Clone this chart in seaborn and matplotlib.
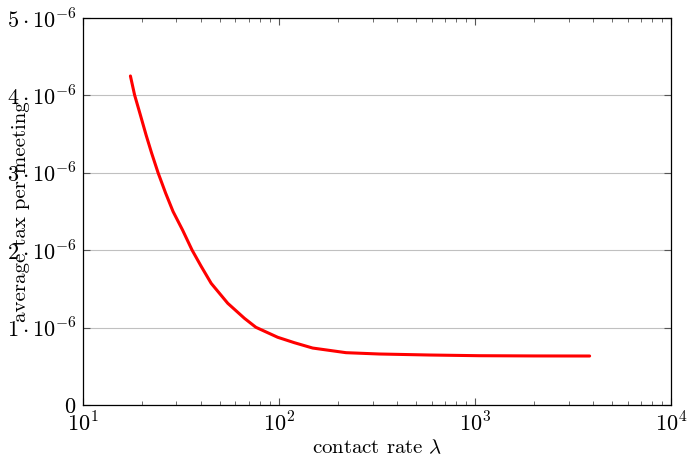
import numpy as np
import pandas as pd
import matplotlib
matplotlib.use("Agg")
import matplotlib.pyplot as plt
import seaborn as sns
from matplotlib.ticker import FixedLocator, LogLocator, NullFormatter

# data
contact_rate = [17.46, 18.34, 19.56, 20.99, 22.39, 24.16, 26.39, 28.81, 32.21, 36.0,
                40.0, 45.09, 54.79, 66.65, 76.25, 98.5, 119.8, 148.5, 219.8, 324.7,
                583.8, 1049.0, 2000.0, 3844.0]
avg_tax = [4.251e-6, 4.005e-6, 3.760e-6, 3.488e-6, 3.256e-6, 3.001e-6, 2.739e-6,
           2.500e-6, 2.261e-6, 2.003e-6, 1.796e-6, 1.572e-6, 1.314e-6, 1.120e-6,
           1.004e-6, 0.875e-6, 0.805e-6, 0.736e-6, 0.676e-6, 0.659e-6, 0.646e-6,
           0.637e-6, 0.634e-6, 0.633e-6]
y_ticks = [0, 1e-6, 2e-6, 3e-6, 4e-6, 5e-6]
y_tick_labels = ["$0$", r"$1\cdot10^{-6}$", r"$2\cdot10^{-6}$", r"$3\cdot10^{-6}$",
                 r"$4\cdot10^{-6}$", r"$5\cdot10^{-6}$"]
x_ticks = [10, 100, 1000, 10000]
x_tick_labels = ["$10^{1}$", "$10^{2}$", "$10^{3}$", "$10^{4}$"]

sns.set_style("ticks")
plt.rcParams["font.family"] = "serif"
plt.rcParams["font.serif"] = ["cmr10", "DejaVu Serif"]
plt.rcParams["mathtext.fontset"] = "cm"
plt.rcParams["axes.unicode_minus"] = False
plt.rcParams["text.color"] = "black"
plt.rcParams["axes.labelcolor"] = "black"

df = pd.DataFrame({"x": contact_rate, "y": avg_tax})

fig = plt.figure(figsize=(6.88, 4.58), dpi=100)
ax = fig.add_axes([0.1206, 0.1157, 0.8547, 0.845])

sns.lineplot(data=df, x="x", y="y", ax=ax, color="red", linewidth=2.2)

ax.set_xscale("log")
ax.set_xlim(10, 10000)
ax.set_ylim(0, 5e-6)
ax.yaxis.set_major_locator(FixedLocator(y_ticks))
ax.set_yticklabels(y_tick_labels)
ax.xaxis.set_major_locator(FixedLocator(x_ticks))
ax.set_xticklabels(x_tick_labels)
ax.xaxis.set_minor_locator(LogLocator(base=10, subs=np.arange(2, 10)))
ax.xaxis.set_minor_formatter(NullFormatter())

ax.grid(axis="y", color="#c0c0c0", linewidth=0.8)
ax.tick_params(which="both", direction="in", top=True, right=True, labelsize=16,
               color="#555555", labelcolor="black")
ax.tick_params(which="major", length=5, width=0.8, pad=5)
ax.tick_params(which="minor", length=3, width=0.6)
for s in ax.spines.values():
    s.set_linewidth(0.9)
    s.set_color("black")

ax.set_xlabel(r"contact rate $\lambda$", fontsize=15, color="black")
ax.set_ylabel("average tax per meeting", fontsize=15, color="black")
ax.yaxis.set_label_coords(-0.09, 0.5)
ax.xaxis.set_label_coords(0.5, -0.088)

fig.savefig("out.png", dpi=100)
